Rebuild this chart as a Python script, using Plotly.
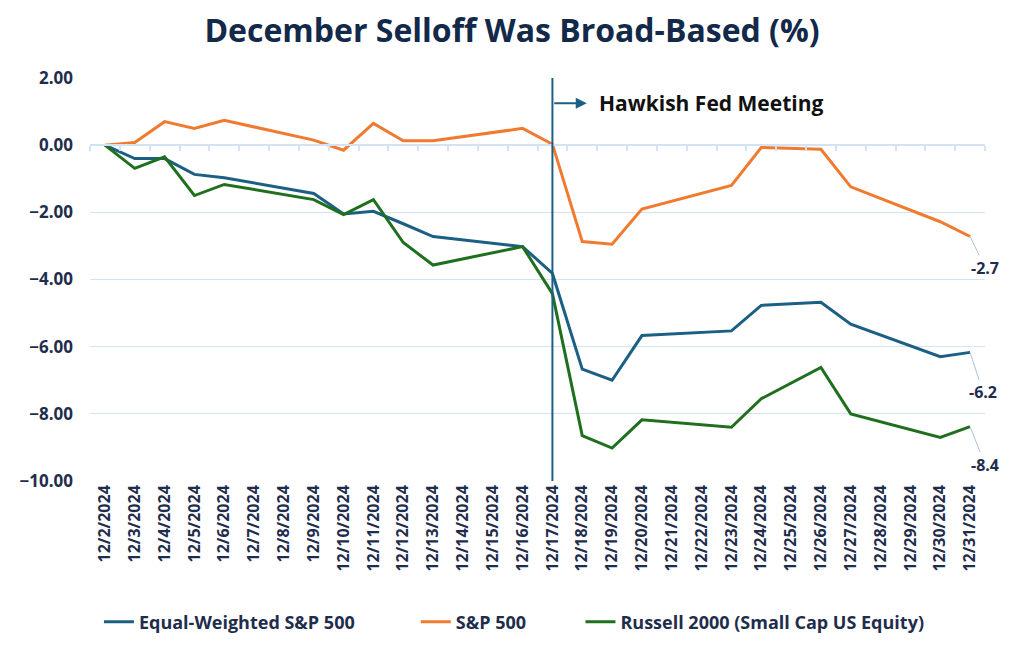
import plotly.graph_objects as go

dates = ["12/2/2024", "12/3/2024", "12/4/2024", "12/5/2024", "12/6/2024", "12/7/2024",
         "12/8/2024", "12/9/2024", "12/10/2024", "12/11/2024", "12/12/2024", "12/13/2024",
         "12/14/2024", "12/15/2024", "12/16/2024", "12/17/2024", "12/18/2024", "12/19/2024",
         "12/20/2024", "12/21/2024", "12/22/2024", "12/23/2024", "12/24/2024", "12/25/2024",
         "12/26/2024", "12/27/2024", "12/28/2024", "12/29/2024", "12/30/2024", "12/31/2024"]

equal_weighted = [0.00, -0.40, -0.40, -0.87, -0.97, None, None, -1.44, -2.05, -1.97, -2.34, -2.72,
                  None, None, -3.02, -3.82, -6.67, -7.00, -5.67, None, None, -5.53, -4.77, None,
                  -4.68, -5.33, None, None, -6.30, -6.17]
sp500 = [0.00, 0.08, 0.70, 0.50, 0.74, None, None, 0.15, -0.15, 0.65, 0.13, 0.13,
         None, None, 0.50, 0.03, -2.87, -2.95, -1.90, None, None, -1.20, -0.07, None,
         -0.12, -1.24, None, None, -2.28, -2.72]
russell = [0.00, -0.69, -0.35, -1.50, -1.17, None, None, -1.62, -2.07, -1.62, -2.90, -3.57,
           None, None, -3.02, -4.42, -8.65, -9.02, -8.18, None, None, -8.40, -7.55, None,
           -6.62, -8.00, None, None, -8.70, -8.38]

series_names = ["Equal-Weighted S&P 500", "S&P 500", "Russell 2000 (Small Cap US Equity)"]
series_values = [equal_weighted, sp500, russell]
series_colors = ["#1b5f85", "#f07b30", "#1f6f1f"]
legend_ids = ["legend", "legend2", "legend3"]
legend_x = [0.010, 0.364, 0.548]
label_offsets = [(13, 40), (15, 31), (15, 38)]

event_date = "12/17/2024"
event_label = "Hawkish Fed Meeting"
y_ticks = [2, 0, -2, -4, -6, -8, -10]

TXT = "#1f2d4d"
TITLE_C = "#13294a"
GRID = "#d3e2f4"
FONT = "Open Sans"

fig = go.Figure()
for name, vals, col, lg in zip(series_names, series_values, series_colors, legend_ids):
    fig.add_trace(go.Scatter(x=dates, y=vals, name=name, mode="lines", legend=lg,
                             connectgaps=True, line=dict(color=col, width=3)))

# helper trace to show the category tick marks on the zero line
fig.add_trace(go.Scatter(x=dates, y=[None] * len(dates), xaxis="x2", showlegend=False,
                         hoverinfo="skip", mode="lines"))

ymin, ymax = -10, 2
legend_font = dict(size=18, color=TXT, family=FONT, weight="bold")
layout_legends = {}
for lg, lx in zip(legend_ids, legend_x):
    layout_legends[lg] = dict(orientation="h", x=lx, xanchor="left", y=-0.35,
                              yanchor="middle", font=legend_font, itemwidth=30,
                              bgcolor="rgba(0,0,0,0)")

fig.update_layout(
    width=1008, height=655,
    margin=dict(l=79, r=31, t=70, b=182),
    paper_bgcolor="white", plot_bgcolor="white",
    font=dict(family=FONT, color=TXT),
    title=dict(text="December Selloff Was Broad-Based (%)", x=0.5, xanchor="center",
               y=0.965, yanchor="middle",
               font=dict(size=32, color=TITLE_C, family=FONT, weight="bold")),
    xaxis=dict(type="category", range=[-0.5, len(dates) - 0.5], showgrid=False,
               tickangle=-90, tickfont=dict(size=16, color=TXT, family=FONT, weight="bold"),
               ticks="", showline=False, zeroline=False),
    xaxis2=dict(type="category", overlaying="x", anchor="free",
                position=(0 - ymin) / (ymax - ymin), range=[-0.5, len(dates) - 0.5],
                showgrid=False, showticklabels=False, showline=True, linecolor=GRID,
                linewidth=1.5, ticks="outside", tickson="boundaries", ticklen=5,
                tickcolor=GRID, tickwidth=1.5, zeroline=False),
    yaxis=dict(range=[ymin, ymax], tickvals=y_ticks, tickformat=".2f", showgrid=True,
               gridcolor=GRID, gridwidth=1.2, zeroline=False, showline=False,
               tickfont=dict(size=17, color=TXT, family=FONT, weight="bold"),
               ticks="", ticklabelstandoff=16),
    showlegend=True,
    **layout_legends,
)

# event line
fig.add_shape(type="line", xref="x", yref="paper", x0=event_date, x1=event_date,
              y0=0, y1=1, line=dict(color=series_colors[0], width=2))
ev_idx = dates.index(event_date)
fig.add_annotation(x=ev_idx + 1.15, y=1.25, xref="x", yref="y", text="", showarrow=True,
                   ax=-34, ay=0, arrowhead=2, arrowsize=1.1, arrowwidth=2,
                   arrowcolor=series_colors[0])
fig.add_annotation(x=ev_idx + 1.5, y=1.25, xref="x", yref="y", xanchor="left",
                   yanchor="middle", text=event_label, showarrow=False,
                   font=dict(size=21, color="#111111", family=FONT, weight="bold"))

# end labels
last = dates[-1]
for vals, (dx, dy) in zip(series_values, label_offsets):
    v = vals[-1]
    fig.add_annotation(x=last, y=v, xref="x", yref="y", text="%.1f" % v,
                       showarrow=True, arrowhead=0, arrowwidth=1, arrowcolor="#a8c3e0",
                       ax=dx, ay=dy,
                       font=dict(size=16, color=TXT, family=FONT, weight="bold"))

fig.write_html("out.html")
